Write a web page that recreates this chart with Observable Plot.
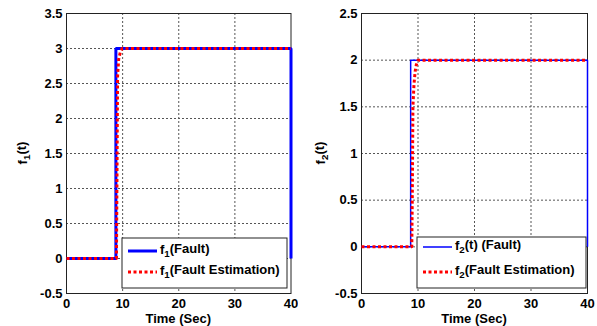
<!DOCTYPE html>
<html><head><meta charset="utf-8">
<script src="https://cdn.jsdelivr.net/npm/d3@7"></script>
<script src="https://cdn.jsdelivr.net/npm/@observablehq/plot@0.6"></script>
<style>
html,body{margin:0;padding:0;background:#fff;}
#wrap{display:flex;width:597px;height:326px;}
svg{font-family:"Liberation Sans",Arial,sans-serif;}
</style></head>
<body><div id="wrap"></div>
<script>
// Panel 1: f1
const t1Fault = [0, 8.8, 8.8, 40, 40];
const f1Fault = [0, 0, 3, 3, 0];
const t1Est = [0, 8.9, 9.0, 9.1, 9.3, 9.6, 9.9, 40];
const f1Est = [0, 0, 1.2, 2.6, 2.85, 2.95, 3, 3];
// Panel 2: f2
const t2Fault = [0, 8.7, 8.7, 40, 40];
const f2Fault = [0, 0, 2, 2, 0];
const t2Est = [0, 8.9, 9.0, 9.1, 9.3, 9.5, 9.7, 10.0, 40];
const f2Est = [0, 0, 0.6, 1.5, 1.75, 1.88, 1.95, 2, 2];
// Ticks
const xTicks = [0, 10, 20, 30, 40];
const y1Ticks = [-0.5, 0, 0.5, 1, 1.5, 2, 2.5, 3, 3.5];
const y2Ticks = [-0.5, 0, 0.5, 1, 1.5, 2, 2.5];
const xLabel = "Time (Sec)";
const legend1 = [["1", "(Fault)"], ["1", "(Fault Estimation)"]];
const legend2 = [["2", "(t) (Fault)"], ["2", "(Fault Estimation)"]];

const rows = (t, v) => t.map((x, i) => ({x, v: v[i]}));

function panel(opts) {
  const {width, ml, mr, yDomain, yTicks, fault, est, blueW, sub, legend, lg} = opts;
  const mt = 13, mb = 33, height = 326;
  const inner = yTicks.slice(1, -1);
  const chart = Plot.plot({
    width, height, marginLeft: ml, marginRight: mr, marginTop: mt, marginBottom: mb,
    style: {fontFamily: '"Liberation Sans", Arial, sans-serif', background: "#fff"},
    x: {domain: [0, 40]},
    y: {domain: yDomain},
    marks: [
      Plot.ruleX(xTicks.slice(1, -1), {stroke: "#555", strokeDasharray: "2,2", strokeWidth: 1}),
      Plot.ruleY(inner, {stroke: "#555", strokeDasharray: "2,2", strokeWidth: 1}),
      Plot.frame({stroke: "#222", strokeWidth: 1}),
      Plot.axisX(xTicks, {tickSize: 0, tickPadding: 5, fontSize: 13, fontWeight: "bold", fill: "#000", label: null, tickFormat: d => String(d)}),
      Plot.axisY(yTicks, {tickSize: 0, tickPadding: 4, fontSize: 13, fontWeight: "bold", fill: "#000", label: null, tickFormat: d => String(d)}),
      Plot.line(fault, {x: "x", y: "v", stroke: "#0000ff", strokeWidth: blueW, strokeLinejoin: "miter", strokeLinecap: "butt"}),
      Plot.line(est, {x: "x", y: "v", stroke: "#ff0000", strokeWidth: 3, strokeDasharray: "3,2.5", strokeLinecap: "butt"})
    ]
  });
  const svg = d3.select(chart);
  const fr = {l: ml, r: width - mr, t: mt, b: height - mb};
  // x label
  svg.append("text").attr("x", (fr.l + fr.r) / 2).attr("y", 323).attr("fill", "#000")
    .attr("text-anchor", "middle").attr("font-size", 13).attr("font-weight", "bold").text(xLabel);
  // y label
  const yl = svg.append("text").attr("transform", `translate(27,${(fr.t + fr.b) / 2}) rotate(-90)`)
    .attr("text-anchor", "middle").attr("font-size", 13).attr("font-weight", "bold").attr("fill", "#000");
  yl.append("tspan").text("f");
  yl.append("tspan").attr("dy", "0.3em").attr("font-size", "0.75em").text(sub);
  yl.append("tspan").attr("dy", "-0.3em").text("(t)");
  // legend
  const bx = fr.r - lg.inset - lg.w, by = fr.b - 5 - lg.h;
  const g = svg.append("g");
  g.append("rect").attr("x", bx).attr("y", by).attr("width", lg.w).attr("height", lg.h)
    .attr("fill", "#fff").attr("stroke", "#222").attr("stroke-width", 1);
  const rowsY = [by + lg.y1, by + lg.y2];
  g.append("line").attr("x1", bx + 6).attr("x2", bx + 35).attr("y1", rowsY[0]).attr("y2", rowsY[0])
    .attr("stroke", "#0000ff").attr("stroke-width", blueW);
  g.append("line").attr("x1", bx + 6).attr("x2", bx + 35).attr("y1", rowsY[1]).attr("y2", rowsY[1])
    .attr("stroke", "#ff0000").attr("stroke-width", 3).attr("stroke-dasharray", "3,2.5");
  legend.forEach(([s, rest], i) => {
    const tx = g.append("text").attr("x", bx + 38).attr("y", rowsY[i] + 3)
      .attr("text-anchor", "start").attr("fill", "#000")
      .attr("font-size", 13).attr("font-weight", "bold");
    tx.append("tspan").text("f");
    tx.append("tspan").attr("dy", "0.3em").attr("font-size", "0.75em").text(s);
    tx.append("tspan").attr("dy", "-0.3em").text(rest);
  });
  return chart;
}

const wrap = document.getElementById("wrap");
wrap.append(panel({
  width: 298, ml: 66, mr: 7.5, yDomain: [-0.5, 3.5], yTicks: y1Ticks,
  fault: rows(t1Fault, f1Fault), est: rows(t1Est, f1Est), blueW: 3, sub: "1", legend: legend1,
  lg: {w: 165, h: 50, inset: 3.5, y1: 13, y2: 34}
}));
wrap.append(panel({
  width: 299, ml: 63, mr: 10, yDomain: [-0.5, 2.5], yTicks: y2Ticks,
  fault: rows(t2Fault, f2Fault), est: rows(t2Est, f2Est), blueW: 1.5, sub: "2", legend: legend2,
  lg: {w: 169, h: 51, inset: 1, y1: 10, y2: 35}
}));
</script>
</body></html>
